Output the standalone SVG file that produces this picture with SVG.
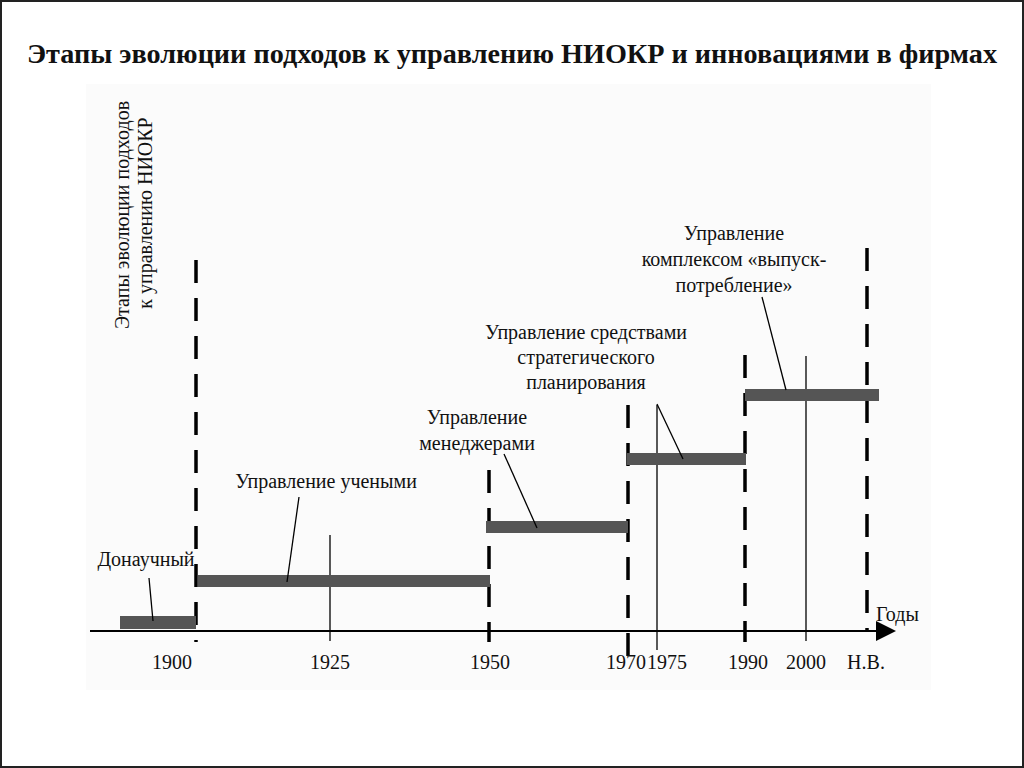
<svg xmlns="http://www.w3.org/2000/svg" width="1024" height="768" viewBox="0 0 1024 768">
<style>
text{font-family:"Liberation Serif","Times New Roman",serif;fill:#111;font-size:20px}
.t{font-size:27px;font-weight:bold}
.c{text-anchor:middle}
.dash{stroke:#000;stroke-width:3.5;stroke-dasharray:23 15}
.thin{stroke:#000;stroke-width:1.3}
.bar{fill:#555}
.lead{stroke:#000;stroke-width:1.3}
</style>
<defs>
<marker id="arr" markerWidth="22" markerHeight="22" refX="1" refY="10" orient="auto" markerUnits="userSpaceOnUse">
<path d="M0,0 L20,10 L0,20 Z" fill="#000"/>
</marker>
</defs>
<rect x="0" y="0" width="1024" height="768" fill="#fff"/>
<rect x="1" y="1" width="1022" height="766" fill="none" stroke="#222" stroke-width="2"/>
<rect x="86" y="84" width="845" height="606" fill="#fbfbfb"/>
<text class="t c" x="512" y="63" textLength="970" lengthAdjust="spacingAndGlyphs">Этапы эволюции подходов к управлению НИОКР и инновациями в фирмах</text>
<g id="ylabel">
<text class="c" transform="translate(129,215) rotate(-90)">Этапы эволюции подходов</text>
<text class="c" transform="translate(152,213) rotate(-90)">к управлению НИОКР</text>
</g>
<g id="grid">
<line class="dash" x1="196" y1="260" x2="196" y2="642"/>
<line class="dash" x1="489" y1="470" x2="489" y2="642"/>
<line class="dash" x1="628" y1="405" x2="628" y2="662"/>
<line class="dash" x1="745" y1="355" x2="745" y2="642"/>
<line class="dash" x1="867" y1="248" x2="867" y2="632"/>
<line class="thin" x1="330" y1="535" x2="330" y2="641"/>
<line class="thin" x1="657" y1="405" x2="657" y2="650"/>
<line class="thin" x1="806" y1="356" x2="806" y2="641"/>
</g>
<g id="axis">
<line x1="90" y1="631" x2="877" y2="631" stroke="#000" stroke-width="2" marker-end="url(#arr)"/>
<text x="876" y="621">Годы</text>
</g>
<g id="bars">
<rect class="bar" x="120" y="616" width="76" height="13"/>
<rect class="bar" x="198" y="575" width="292" height="12"/>
<rect class="bar" x="486" y="521" width="142" height="12"/>
<rect class="bar" x="627" y="453" width="119" height="12"/>
<rect class="bar" x="745" y="389" width="134" height="12"/>
</g>
<g id="connectors">
<line class="lead" x1="149" y1="578" x2="153" y2="621"/>
<line class="lead" x1="299" y1="497" x2="287" y2="582"/>
<line class="lead" x1="504" y1="454" x2="537" y2="528"/>
<line class="lead" x1="657" y1="404" x2="683" y2="459"/>
<line class="lead" x1="762" y1="297" x2="786" y2="390"/>
</g>
<g id="n-donauch"><text class="c" x="146" y="566">Донаучный</text></g>
<g id="n-uchenye"><text class="c" x="326" y="488">Управление учеными</text></g>
<g id="n-menedzh"><text class="c" x="477" y="424">Управление</text><text class="c" x="477" y="450">менеджерами</text></g>
<g id="n-strat"><text class="c" x="586" y="339">Управление средствами</text><text class="c" x="586" y="364">стратегического</text><text class="c" x="586" y="389">планирования</text></g>
<g id="n-vypusk"><text class="c" x="734" y="240">Управление</text><text class="c" x="734" y="266">комплексом «выпуск-</text><text class="c" x="734" y="292">потребление»</text></g>
<g id="years">
<text class="c" x="172" y="669">1900</text>
<text class="c" x="330" y="669">1925</text>
<text class="c" x="490" y="669">1950</text>
<text class="c" x="626" y="669">1970</text>
<text class="c" x="667" y="669">1975</text>
<text class="c" x="748" y="669">1990</text>
<text class="c" x="806" y="669">2000</text>
<text class="c" x="866" y="669">Н.В.</text>
</g>
</svg>
